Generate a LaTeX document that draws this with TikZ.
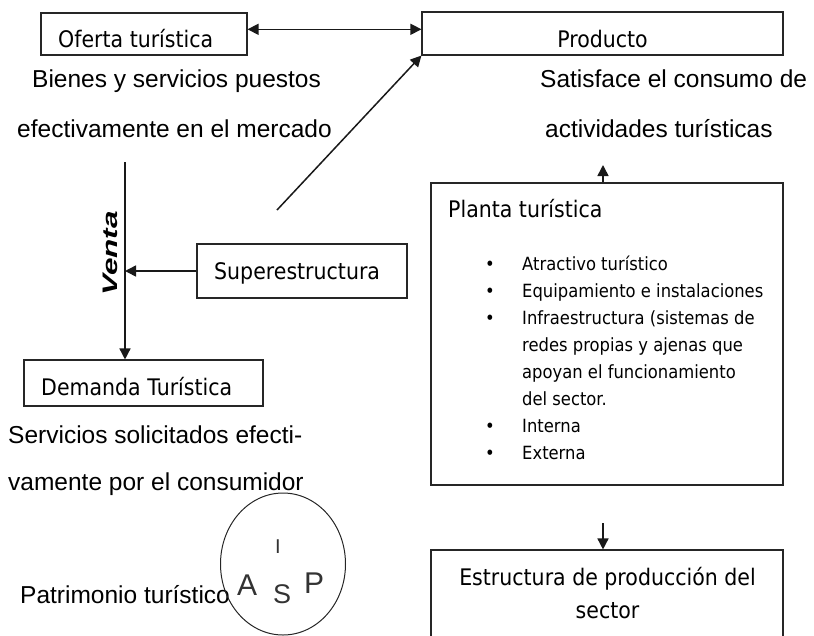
\documentclass[tikz,border=0pt]{standalone}
\usepackage{fontspec}
\setmainfont{Liberation Sans}
\newfontfamily\boxfont[FakeStretch=0.9]{DejaVu Sans}
\usetikzlibrary{arrows.meta,shapes.geometric}
\begin{document}
\begin{tikzpicture}[x=1pt,y=-1pt,
  box/.style={draw=black!85, line width=1.1pt, rectangle, inner sep=0pt},
  arr/.style={line width=1.5pt, draw=black!90, -{Triangle[length=11pt,width=11pt]}},
  big/.style={font=\fontsize{24.5}{29}\selectfont, inner sep=0pt, anchor=base west},
  lbl/.style={font=\boxfont\fontsize{22.8}{27}\selectfont, inner sep=0pt, anchor=base west},
  itm/.style={font=\boxfont\fontsize{18.2}{27}\selectfont, inner sep=0pt, anchor=base west},
  letter/.style={inner sep=0pt, anchor=base west}]
\useasboundingbox (0,0) rectangle (814,635);
\clip (0,0) rectangle (814,635);

% boxes
\node[box, minimum width=206pt, minimum height=42pt] (oferta) at (144,34) {};
\node[lbl] (ofertaT) at (58,47) {Oferta turística};
\node[box, minimum width=361pt, minimum height=43pt] (producto) at (602.5,33.5) {};
\node[lbl, anchor=base] (productoT) at (602.5,47) {Producto};
\node[box, minimum width=210pt, minimum height=54pt] (super) at (302,271) {};
\node[lbl] (superT) at (214,279) {Superestructura};
\node[box, minimum width=239pt, minimum height=46pt] (demanda) at (143.5,383) {};
\node[lbl] (demandaT) at (41,395) {Demanda Turística};
\node[box, minimum width=352pt, minimum height=302pt] (planta) at (607,334) {};
\node[lbl] (plantaT) at (448,217) {Planta turística};
\node[box, minimum width=352pt, minimum height=130pt] (estr) at (607,615) {};
\node[lbl, anchor=base] (estrT1) at (607.5,585) {Estructura de producción del};
\node[lbl, anchor=base] (estrT2) at (607.5,618) {sector};

% list in planta
\foreach \k/\b/\t in {0/1/Atractivo turístico,
                      1/1/Equipamiento e instalaciones,
                      2/1/Infraestructura (sistemas de,
                      3/0/redes propias y ajenas que,
                      4/0/apoyan el funcionamiento,
                      5/0/del sector.,
                      6/1/Interna,
                      7/1/Externa}{
  \node[itm] (item\k) at (522,270+27*\k) {\t};
  \ifnum\b=1 \node[itm] (bul\k) at (485,270+27*\k) {•}; \fi
}

% large texts
\node[big] (t1) at (32,87) {Bienes y servicios puestos};
\node[big] (t2) at (17,137) {efectivamente en el mercado};
\node[big] (t3) at (540,87) {Satisface el consumo de};
\node[big] (t4) at (545,137) {actividades turísticas};
\node[big] (t5) at (8,443) {Servicios solicitados efecti-};
\node[big] (t6) at (8,490) {vamente por el consumidor};
\node[big] (t7) at (20,603) {Patrimonio turístico};

% ellipse with letters
\node[draw=black!85, ellipse, line width=1pt, minimum width=125pt, minimum height=142pt, inner sep=0pt] (circ) at (283,564) {};
\node[letter, font=\fontsize{20}{20}\selectfont, text=black!80] (lI) at (275,553) {I};
\node[letter, font=\fontsize{30}{30}\selectfont, text=black!80] (lA) at (237,595) {A};
\node[letter, font=\fontsize{27}{27}\selectfont, text=black!80] (lS) at (273,603) {S};
\node[letter, font=\fontsize{30}{30}\selectfont, text=black!80] (lP) at (304,593) {P};

% Venta
\node[rotate=90, font=\fontsize{21}{21}\selectfont\bfseries\itshape, inner sep=0pt] (venta) at (110.5,253.5) {\scalebox{1.5}[1]{Venta}};

% connectors
\draw[arr, {Triangle[length=11pt,width=11pt]}-{Triangle[length=11pt,width=11pt]}] ([yshift=4.7pt]oferta.east) -- ([yshift=4.2pt]producto.west);
\coordinate (diag) at (277,210);
\draw[arr] (diag) -- (producto.south west);
\coordinate (vtop) at (125,162);
\draw[arr] (vtop) -- (vtop |- demanda.north);
\draw[arr] (super.west) -- (super.west -| vtop);
\coordinate (upend) at (603,165);
\draw[arr] (upend |- planta.north) -- (upend);
\coordinate (dnstart) at (603,523);
\draw[arr] (dnstart) -- (dnstart |- estr.north);
\end{tikzpicture}
\end{document}
